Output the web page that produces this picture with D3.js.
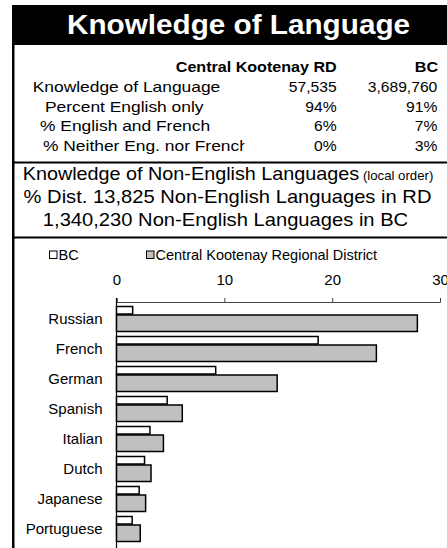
<!DOCTYPE html>
<html>
<head>
<meta charset="utf-8">
<script src="https://cdn.jsdelivr.net/npm/d3@7"></script>
<style>
  body { margin: 0; background: #fff; }
  svg { display: block; font-family: "Liberation Sans", Arial, sans-serif; }
</style>
</head>
<body>
<div class="canvas"></div>
<script>
const width = 447, height = 548;

// summary table
const tableTitle = 'Knowledge of Language';
const columnHeads = ['Central Kootenay RD', 'BC'];
const rowLabels = ['Knowledge of Language', 'Percent English only', '% English and French', '% Neither Eng. nor French'];
const rdColumn = ['57,535', '94%', '6%', '0%'];
const bcColumn = ['3,689,760', '91%', '7%', '3%'];

// chart heading lines
const subTitle = 'Knowledge of Non-English Languages';
const subNote = ' (local order)';
const rdLine = '% Dist. 13,825 Non-English Languages in RD';
const bcLine = '1,340,230 Non-English Languages in BC';

// bar chart
const seriesNames = ['BC', 'Central Kootenay Regional District'];
const categories = ['Russian', 'French', 'German', 'Spanish', 'Italian', 'Dutch', 'Japanese', 'Portuguese'];
const bcValues = [1.5, 18.7, 9.2, 4.7, 3.1, 2.6, 2.1, 1.45];
const rdValues = [27.9, 24.1, 14.9, 6.1, 4.35, 3.2, 2.7, 2.2];
const xTicks = [0, 10, 20, 30];

const svg = d3.select('.canvas').append('svg')
    .attr('width', width)
    .attr('height', height);

// text in the upper block is a bit wider than the font
function addText(parent, x, y, str, size, sx, anchor, weight) {
    return parent.append('text')
        .attr('transform', `translate(${x},${y}) scale(${sx},1)`)
        .attr('text-anchor', anchor)
        .attr('font-size', size)
        .attr('font-weight', weight || 'normal')
        .attr('fill', '#000')
        .text(str);
}

// frame
svg.append('rect')
    .attr('x', 12).attr('y', 5)
    .attr('width', width - 12).attr('height', 40)
    .attr('fill', '#000');
svg.append('rect')
    .attr('x', 12).attr('y', 45)
    .attr('width', 2.5).attr('height', height - 45)
    .attr('fill', '#000');
svg.append('rect')
    .attr('x', 12).attr('y', 161.5)
    .attr('width', width - 12).attr('height', 2)
    .attr('fill', '#000');
svg.append('rect')
    .attr('x', 12).attr('y', 236.5)
    .attr('width', width - 12).attr('height', 2)
    .attr('fill', '#000');

addText(svg, 238.5, 33.5, tableTitle, 27, 1.1, 'middle', 'bold').attr('fill', '#fff');

// table
addText(svg, 336.7, 71.7, columnHeads[0], 14, 1.15, 'end', 'bold');
addText(svg, 438, 71.7, columnHeads[1], 14, 1.15, 'end', 'bold');

const rowY = [91.7, 111.5, 131.3, 150.5];
const rowX = [32.7, 45, 40, 43];

// the last label is cut short in the original
svg.append('clipPath').attr('id', 'labelClip')
    .append('rect').attr('x', 0).attr('y', 0).attr('width', 244.5).attr('height', height);
const labelG = svg.append('g').attr('clip-path', 'url(#labelClip)');

rowLabels.forEach((r, i) => {
    addText(labelG, rowX[i], rowY[i], r, 15, 1.16, 'start');
    addText(svg, 336.7, rowY[i], rdColumn[i], 14.5, 1.08, 'end');
    addText(svg, 437.3, rowY[i], bcColumn[i], 14.5, 1.08, 'end');
});

// headings over the chart
const st = addText(svg, 228, 180, subTitle, 18, 1.1, 'middle');
st.append('tspan').attr('font-size', 12).text(subNote);
addText(svg, 227.5, 202.5, rdLine, 18, 1.12, 'middle');
addText(svg, 225.5, 225.5, bcLine, 18, 1.12, 'middle');

// legend
const legendX = [49.5, 146.5];
const legendFill = ['#fff', '#c0c0c0'];
seriesNames.forEach((s, i) => {
    svg.append('rect')
        .attr('x', legendX[i]).attr('y', 251)
        .attr('width', 7.5).attr('height', 7.5)
        .attr('fill', legendFill[i])
        .attr('stroke', '#000').attr('stroke-width', 1);
    svg.append('text')
        .attr('x', legendX[i] + 9).attr('y', 260)
        .attr('font-size', 14.5)
        .text(s);
});

// scales
const x = d3.scaleLinear().domain([0, 30]).range([116.5, 440]);
const y = d3.scaleBand().domain(categories).range([302, 542]);

const xAxis = svg.append('g')
    .attr('transform', 'translate(0,302)')
    .call(d3.axisTop(x).tickValues(xTicks).tickSize(4).tickPadding(13));
xAxis.selectAll('text').attr('font-size', 15).attr('font-family', null).attr('fill', '#000');
xAxis.selectAll('line,path').attr('stroke', '#444');

const yAxis = svg.append('g')
    .attr('transform', 'translate(116.5,2.5)')
    .call(d3.axisLeft(y).tickSize(0).tickPadding(14));
yAxis.select('.domain').remove();
yAxis.selectAll('text').attr('font-size', 15).attr('font-family', null).attr('fill', '#000');

svg.append('line')
    .attr('x1', x(0)).attr('x2', x(0))
    .attr('y1', 298).attr('y2', height)
    .attr('stroke', '#000').attr('stroke-width', 1.2);

// bars
svg.append('g').selectAll('rect')
    .data(categories)
    .join('rect')
    .attr('x', x(0))
    .attr('y', d => y(d) + 4.5)
    .attr('width', (d, i) => x(bcValues[i]) - x(0))
    .attr('height', 7.5)
    .attr('fill', legendFill[0])
    .attr('stroke', '#000')
    .attr('stroke-width', 1.5);

svg.append('g').selectAll('rect')
    .data(categories)
    .join('rect')
    .attr('x', x(0))
    .attr('y', d => y(d) + 13)
    .attr('width', (d, i) => x(rdValues[i]) - x(0))
    .attr('height', 16.5)
    .attr('fill', legendFill[1])
    .attr('stroke', '#000')
    .attr('stroke-width', 1.5);
</script>
</body>
</html>
